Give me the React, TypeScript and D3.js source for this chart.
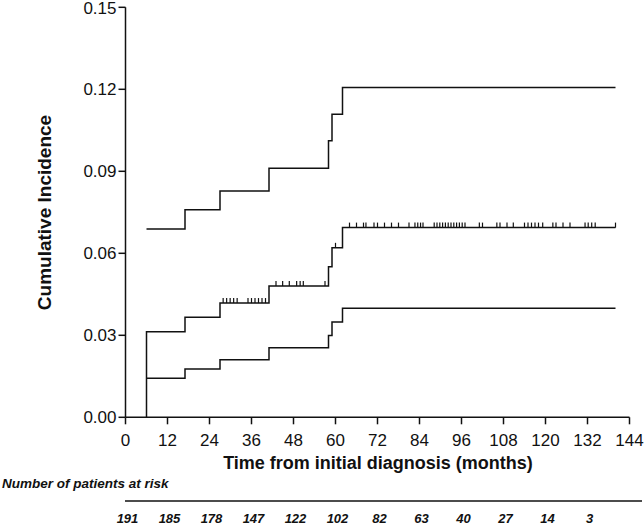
import React from "react";
import * as d3 from "d3";

const W = 644;
const H = 526;

// step event times (months) and cumulative incidence levels
const eventTimes = [6, 17, 27, 41, 58, 59, 62];
const endTime = 140;
const estimate = [0.0313, 0.0366, 0.0418, 0.048, 0.0551, 0.062, 0.0694];
const lowerCI = [0.0143, 0.0177, 0.0211, 0.0254, 0.0299, 0.0349, 0.0399];
const upperCI = [0.0689, 0.0759, 0.0828, 0.0911, 0.1012, 0.1109, 0.1207];

// censoring times on the estimate curve
const censorTimes = [
  27.9, 28.9, 29.9, 30.9, 31.9,
  35, 36, 37, 38, 39, 40,
  43, 44.9, 46.8, 48.9, 49.9, 50.8, 57,
  60,
  64, 66, 68, 68.7, 71, 72, 74, 76, 78, 81, 82.7, 83.5, 84.3, 85,
  88.2, 89, 89.8, 90.6, 91.4, 92.2, 93, 93.8, 94.6, 95.4, 96.2, 97,
  101.1, 102, 106.1, 107, 109, 110.8,
  114, 115, 116, 117, 118, 119.2, 122.1, 123, 125, 127,
  131.3, 132.2, 133.2, 134.2, 140,
];

const xTicks = d3.range(0, 145, 12);
const yTicks = [0, 0.03, 0.06, 0.09, 0.12, 0.15];
const riskTimes = d3.range(0, 133, 12);
const atRisk = [191, 185, 178, 147, 122, 102, 82, 63, 40, 27, 14, 3];

const x = d3.scaleLinear().domain([0, 144]).range([125.5, 629.5]);
const y = d3.scaleLinear().domain([0, 0.15]).range([417.3, 7.3]);

function stepPoints(levels: number[]): [number, number][] {
  const pts: [number, number][] = eventTimes.map((t, i) => [t, levels[i]]);
  pts.push([endTime, levels[levels.length - 1]]);
  return pts;
}

function levelAt(t: number, levels: number[]) {
  let v = levels[0];
  eventTimes.forEach((et, i) => {
    if (t >= et) v = levels[i];
  });
  return v;
}

const stepLine = d3
  .line<[number, number]>()
  .x((d) => x(d[0]))
  .y((d) => y(d[1]))
  .curve(d3.curveStepAfter);

const font = "Liberation Sans, Arial, Helvetica, sans-serif";

export default function App() {
  const estPts: [number, number][] = [[eventTimes[0], 0], ...stepPoints(estimate)];
  return (
    <svg
      width={W}
      height={H}
      style={{ position: "absolute", left: 0, top: 0, background: "#fff" }}
      fontFamily={font}
    >
      <rect width={W} height={H} fill="#fff" />
      {/* curves */}
      <g fill="none" stroke="#111" strokeWidth={1.5}>
        <path d={stepLine(stepPoints(upperCI)) || ""} />
        <path d={stepLine(estPts) || ""} />
        <path d={stepLine(stepPoints(lowerCI)) || ""} />
        {censorTimes.map((t, i) => (
          <line
            key={i}
            x1={x(t)}
            x2={x(t)}
            y1={y(levelAt(t, estimate))}
            y2={y(levelAt(t, estimate)) - 5}
            strokeWidth={1.2}
          />
        ))}
      </g>
      {/* axes */}
      <g stroke="#111" strokeWidth={1.5}>
        <line x1={x(0)} x2={x(0)} y1={y(0)} y2={y(0.15)} />
        {yTicks.map((v) => (
          <line key={v} x1={x(0) - 7} x2={x(0)} y1={y(v)} y2={y(v)} />
        ))}
        <line x1={x(0)} x2={x(144)} y1={y(0)} y2={y(0)} />
        {xTicks.map((t) => (
          <line key={t} x1={x(t)} x2={x(t)} y1={y(0)} y2={y(0) + 7} />
        ))}
      </g>
      <g fontSize={17} fill="#111">
        {yTicks.map((v) => (
          <text key={v} x={x(0) - 9} y={Math.max(y(v) + 6, 14)} textAnchor="end">
            {d3.format(".2f")(v)}
          </text>
        ))}
        {xTicks.map((t) => (
          <text key={t} x={x(t)} y={446} textAnchor="middle">
            {t}
          </text>
        ))}
      </g>
      <text
        transform="translate(51,212.5) rotate(-90)"
        textAnchor="middle"
        fontWeight="bold"
        fontSize={19}
        fill="#111"
      >
        Cumulative Incidence
      </text>
      <text x={378} y={469} textAnchor="middle" fontWeight="bold" fontSize={18} fill="#111">
        Time from initial diagnosis (months)
      </text>
      <text x={2} y={488} fontWeight="bold" fontStyle="italic" fontSize={13.5} fill="#111">
        Number of patients at risk
      </text>
      <line x1={125} x2={642} y1={501} y2={501} stroke="#111" strokeWidth={1.5} />
      <g fontWeight="bold" fontStyle="italic" fontSize={13} fill="#111">
        {riskTimes.map((t, i) => (
          <text key={t} x={x(t) + 2} y={523} textAnchor="middle">
            {atRisk[i]}
          </text>
        ))}
      </g>
    </svg>
  );
}
